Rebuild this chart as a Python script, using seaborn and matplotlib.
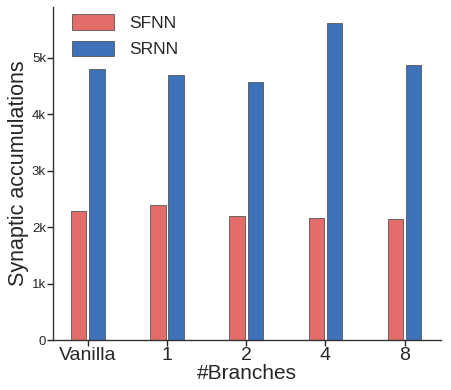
import pandas as pd
import seaborn as sns
import matplotlib.pyplot as plt
from matplotlib.ticker import FuncFormatter

# values
branches = ['Vanilla', '1', '2', '4', '8']
sfnn = [2280, 2400, 2190, 2170, 2140]
srnn = [4810, 4700, 4580, 5620, 4880]

df = pd.DataFrame({
    'Branches': branches * 2,
    'Value': sfnn + srnn,
    'Model': ['SFNN'] * len(branches) + ['SRNN'] * len(branches),
})

sns.set_style('ticks')
plt.rcParams['font.family'] = ['Liberation Sans', 'DejaVu Sans']

fig = plt.figure(figsize=(4.52, 3.9), dpi=100)
ax = fig.add_axes([0.117, 0.128, 0.859, 0.854])

sns.barplot(data=df, x='Branches', y='Value', hue='Model', order=branches,
            palette={'SFNN': '#E46D6B', 'SRNN': '#3E72B9'}, saturation=1,
            width=0.46, gap=0.16, edgecolor='#555555', linewidth=0.6, ax=ax)

ax.set_xlim(-0.44, 4.46)
ax.set_ylim(0, 5900)
ax.set_yticks([0, 1000, 2000, 3000, 4000, 5000])
ax.yaxis.set_major_formatter(FuncFormatter(lambda v, p: '0' if v == 0 else f'{int(v/1000)}k'))
ax.tick_params(axis='y', labelsize=9.5, length=4, width=1, pad=1)
ax.tick_params(axis='x', labelsize=14, length=4, width=1, pad=1)
ax.set_xlabel('#Branches', fontsize=15, labelpad=0)
ax.set_ylabel('Synaptic accumulations', fontsize=15.5, labelpad=2)
sns.despine(ax=ax)
for s in ['left', 'bottom']:
    ax.spines[s].set_color('#333333')
    ax.spines[s].set_linewidth(1)

ax.legend(loc='upper left', bbox_to_anchor=(0.01, 1.025), fontsize=12.5, frameon=False,
          handlelength=2.4, handleheight=1.0, labelspacing=0.55, handletextpad=0.9)

plt.savefig('out.png', dpi=100)
